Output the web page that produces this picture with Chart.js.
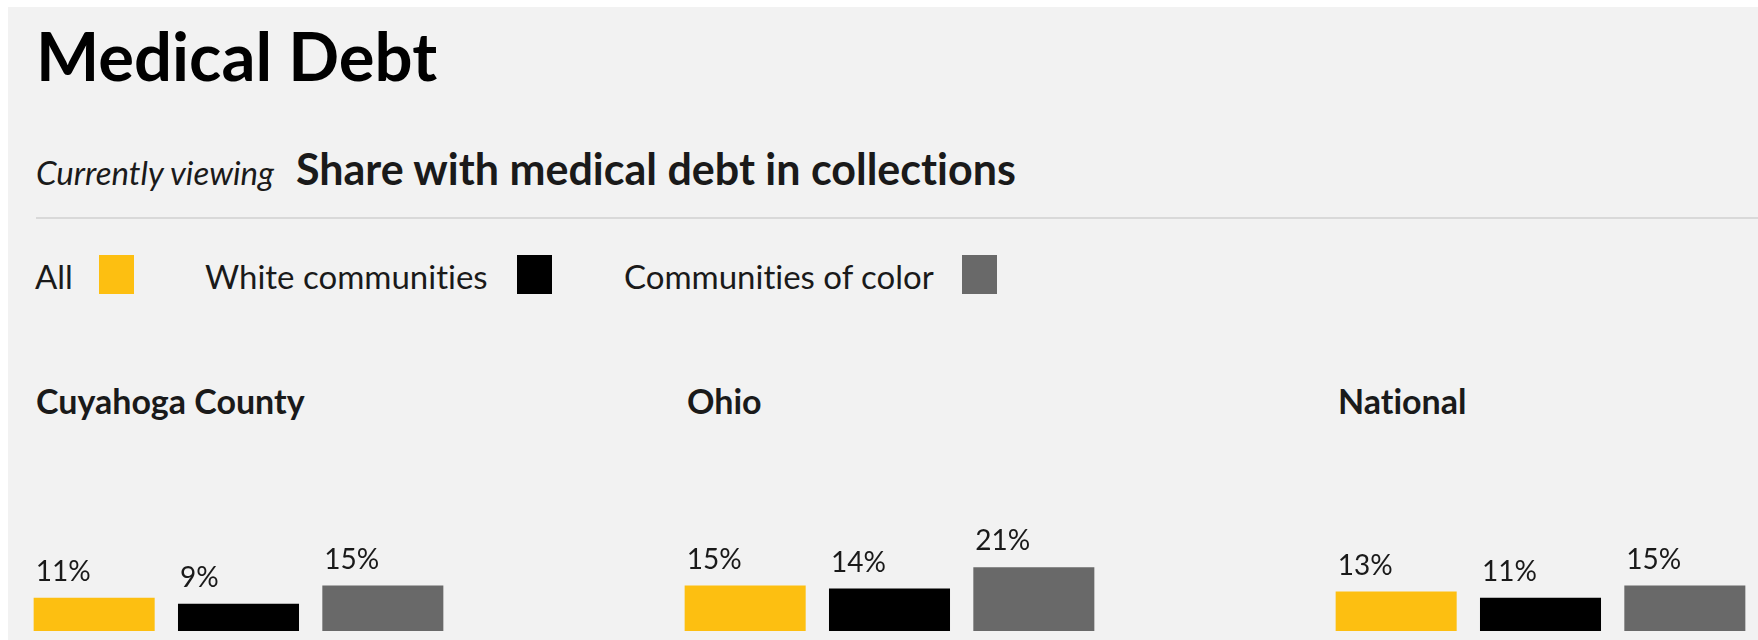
<!DOCTYPE html>
<html>
<head>
<meta charset="utf-8">
<script src="https://cdn.jsdelivr.net/npm/chart.js@4.4.1/dist/chart.umd.min.js"></script>
<style>
  body { margin: 0; background: #fff; font-family: 'Lato', sans-serif; color: #000; font-variant-ligatures: none; }
  #panel { position: absolute; left: 8px; top: 7px; right: 0; bottom: 0; background: #f2f2f2; overflow: hidden; width: 1750px; height: 633px; }
  .txt { position: absolute; line-height: 1; white-space: nowrap; }
  #title { left: 28px; top: 15px; font-size: 67px; font-weight: 700; }
  #viewing { left: 28px; top: 149px; font-size: 33px; font-style: italic; color: #1a1a1a; }
  #metric { left: 288px; top: 140px; font-size: 43px; font-weight: 700; color: #1a1a1a; }
  #rule { position: absolute; left: 28px; top: 210px; right: 0; height: 2px; background: #d9d9d9; }
  .leg { position: absolute; top: 253px; font-size: 33px; line-height: 1; white-space: nowrap; color: #1a1a1a; }
  .sw { position: absolute; top: 248px; width: 35px; height: 39px; }
  .grp { position: absolute; top: 377px; font-size: 34px; font-weight: 700; line-height: 1; white-space: nowrap; color: #1a1a1a; }
  canvas { position: absolute; }
</style>
</head>
<body>
<div id="panel">
  <div id="title" class="txt">Medical Debt</div>
  <div id="viewing" class="txt">Currently viewing</div>
  <div id="metric" class="txt">Share with medical debt in collections</div>
  <div id="rule"></div>
</div>

<script>
/*#################### DATOS ####################*/
const groups = ['Cuyahoga County', 'Ohio', 'National'];
const categories = ['All', 'White communities', 'Communities of color'];
const cuyahogaValues = [11, 9, 15];
const ohioValues = [15, 14, 21];
const nationalValues = [13, 11, 15];
const barColors = ['#fdbf11', '#000000', '#696969'];

const groupValues = [cuyahogaValues, ohioValues, nationalValues];

const panel = document.getElementById('panel');

/*#################### LEYENDA (html) ####################*/
const legTextX = [27, 197, 616];
const legBoxX = [91, 509, 954];
categories.forEach((c, i) => {
  let t = document.createElement('div');
  t.className = 'leg';
  t.style.left = legTextX[i] + 'px';
  t.textContent = c;
  panel.appendChild(t);

  let b = document.createElement('div');
  b.className = 'sw';
  b.style.left = legBoxX[i] + 'px';
  b.style.background = barColors[i];
  panel.appendChild(b);
});

/* etiquetas de porcentaje encima de cada barra */
const valueLabels = {
  id: 'valueLabels',
  afterDatasetsDraw(chart) {
    const ctx = chart.ctx;
    const meta = chart.getDatasetMeta(0);
    ctx.save();
    ctx.font = '28px Lato';
    ctx.fillStyle = '#1a1a1a';
    ctx.textAlign = 'left';
    ctx.textBaseline = 'alphabetic';
    meta.data.forEach((bar, i) => {
      let v = chart.data.datasets[0].data[i];
      ctx.fillText(v + '%', bar.x - bar.width / 2 + 2, bar.y - 17);
    });
    ctx.restore();
  }
};

/*#################### GRAFICOS DE BARRA ####################*/
const groupLeft = [26, 677, 1328];
groups.forEach((g, k) => {
  let h = document.createElement('div');
  h.className = 'grp';
  h.style.left = (groupLeft[k] + 2) + 'px';
  h.textContent = g;
  panel.appendChild(h);

  let cv = document.createElement('canvas');
  cv.width = 433;
  cv.height = 200;
  cv.style.left = (groupLeft[k] - 11.65) + 'px';
  cv.style.top = (624 - 200) + 'px';
  panel.appendChild(cv);

  new Chart(cv, {
    type: 'bar',
    data: {
      labels: categories,
      datasets: [{
        data: groupValues[k],
        backgroundColor: barColors,
        borderWidth: 0,
        barPercentage: 0.8385,
        categoryPercentage: 1
      }]
    },
    options: {
      responsive: false,
      animation: false,
      devicePixelRatio: 1,
      layout: { padding: 0 },
      plugins: { legend: { display: false }, tooltip: { enabled: false } },
      scales: {
        x: { display: false },
        y: { display: false, min: 0, max: 66 }
      }
    },
    plugins: [valueLabels]
  });
});
</script>
</body>
</html>
